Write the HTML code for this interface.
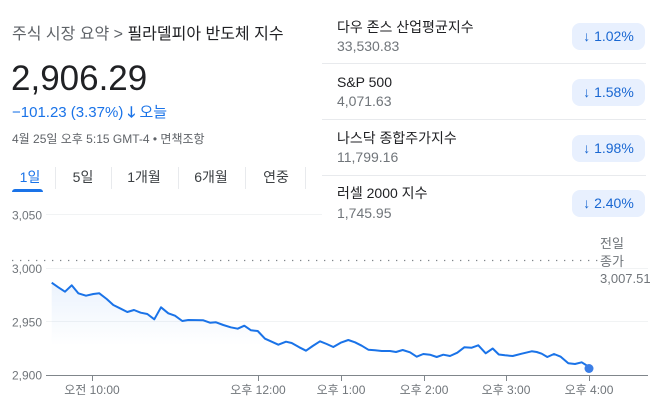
<!DOCTYPE html>
<html><head><meta charset="utf-8">
<style>
html,body{margin:0;padding:0;background:#fff;}
body{width:658px;height:403px;position:relative;overflow:hidden;font-family:"Liberation Sans","Noto Sans CJK KR",sans-serif;}
.a{position:absolute;white-space:nowrap;line-height:1;}
.crumb{left:12px;top:27px;font-size:16px;color:#202124;}
.crumb .g{color:#5f6368;}
.big{left:11px;top:61px;font-size:35px;color:#202124;}
.chg{left:12px;top:105px;font-size:15px;color:#1a73e8;}
.date{left:12px;top:133px;font-size:12px;color:#5f6368;}
.tab{top:170px;font-size:14px;color:#3c4043;transform:translateX(-50%);}
.sep{position:absolute;top:167px;width:1px;height:22px;background:#e8eaed;}
.name{left:337px;font-size:14px;color:#202124;}
.val{left:337px;font-size:14px;color:#70757a;}
.badge{position:absolute;left:572px;width:73px;height:27px;border-radius:8px;background:#e8f0fe;color:#1967d2;font-size:14px;line-height:27px;text-align:center;}
.hl{position:absolute;left:322px;width:324px;height:1px;background:#e8eaed;}
</style></head><body>
<svg width="658" height="403" style="position:absolute;left:0;top:0">
<defs>
<linearGradient id="gf" gradientUnits="userSpaceOnUse" x1="0" y1="280" x2="0" y2="346">
<stop offset="0" stop-color="#1a73e8" stop-opacity="0.09"/>
<stop offset="1" stop-color="#1a73e8" stop-opacity="0"/>
</linearGradient>
</defs>
<g stroke="#f1f3f4" stroke-width="1">
<line x1="46" y1="214.5" x2="648" y2="214.5"/>
<line x1="46" y1="268.5" x2="648" y2="268.5"/>
<line x1="46" y1="321.5" x2="648" y2="321.5"/>
</g>
<line x1="12" y1="260.5" x2="598" y2="260.5" stroke="#80868b" stroke-width="1.3" stroke-dasharray="1.3 6.7"/>
<polygon fill="url(#gf)" points="51.7,282.7 58.3,287.3 65,291.7 71.7,285.3 78.3,293.3 86,295.7 93.3,294 99.3,293.3 106.7,299 113.3,305 120,308.3 127.3,312 134,310 140.7,312.7 147.3,314 154.3,319.3 161,307.3 168.3,313.3 175,315.7 182.3,321 188.3,320 203.3,320.3 210,322.7 216,322.3 223.3,325 230.7,327.3 237.7,328.7 244.3,325.7 251,330.3 257.7,331 265,338.7 271.7,341.7 278.3,344.7 286,341.7 291.7,343 299.3,347.3 306,350.7 312.7,346 320,341.3 326.7,344 333.3,347 340.7,342.7 348.3,340 355,342.3 361.7,345.7 368.3,349.7 375,350.3 381.7,351 390,351 396,352 402.7,350 410,352.3 416.7,356.7 423.3,354 430,354.7 436.7,357 443.3,354.7 450,356 457.3,352.7 464.3,347.3 471.7,347.7 478.3,345.3 485.7,353.3 492.7,348.5 498.8,354.5 505,355.3 512.7,356 521.7,353.7 531.7,351.3 536.7,352 541.7,353.7 547.3,357 554,354 560.7,356.7 568.3,363.3 575,364 581.7,362.3 586,365 589,368.5 589,375 51.7,375"/>
<polyline fill="none" stroke="#1a73e8" stroke-width="2" stroke-linejoin="round" points="51.7,282.7 58.3,287.3 65,291.7 71.7,285.3 78.3,293.3 86,295.7 93.3,294 99.3,293.3 106.7,299 113.3,305 120,308.3 127.3,312 134,310 140.7,312.7 147.3,314 154.3,319.3 161,307.3 168.3,313.3 175,315.7 182.3,321 188.3,320 203.3,320.3 210,322.7 216,322.3 223.3,325 230.7,327.3 237.7,328.7 244.3,325.7 251,330.3 257.7,331 265,338.7 271.7,341.7 278.3,344.7 286,341.7 291.7,343 299.3,347.3 306,350.7 312.7,346 320,341.3 326.7,344 333.3,347 340.7,342.7 348.3,340 355,342.3 361.7,345.7 368.3,349.7 375,350.3 381.7,351 390,351 396,352 402.7,350 410,352.3 416.7,356.7 423.3,354 430,354.7 436.7,357 443.3,354.7 450,356 457.3,352.7 464.3,347.3 471.7,347.7 478.3,345.3 485.7,353.3 492.7,348.5 498.8,354.5 505,355.3 512.7,356 521.7,353.7 531.7,351.3 536.7,352 541.7,353.7 547.3,357 554,354 560.7,356.7 568.3,363.3 575,364 581.7,362.3 586,365 589,368.5"/>
<circle cx="589" cy="368.5" r="4.5" fill="#3b7ee6"/>
<line x1="46" y1="375.5" x2="648" y2="375.5" stroke="#80868b" stroke-width="1"/>
<g stroke="#80868b" stroke-width="1">
<line x1="92.5" y1="375" x2="92.5" y2="381"/>
<line x1="258.5" y1="375" x2="258.5" y2="381"/>
<line x1="341.5" y1="375" x2="341.5" y2="381"/>
<line x1="424.5" y1="375" x2="424.5" y2="381"/>
<line x1="506.5" y1="375" x2="506.5" y2="381"/>
<line x1="589.5" y1="375" x2="589.5" y2="381"/>
</g>
<g font-family="Liberation Sans, Noto Sans CJK KR, sans-serif" font-size="12" fill="#70757a">
<text x="12" y="219.5">3,050</text>
<text x="12" y="273">3,000</text>
<text x="12" y="326.5">2,950</text>
<text x="12" y="379.5">2,900</text>
<g text-anchor="middle">
<text x="92" y="394">오전 10:00</text>
<text x="258" y="394">오후 12:00</text>
<text x="341" y="394">오후 1:00</text>
<text x="424" y="394">오후 2:00</text>
<text x="506" y="394">오후 3:00</text>
<text x="589" y="394">오후 4:00</text>
</g>
<g font-size="13">
<text x="600" y="248">전일</text>
<text x="600" y="266">종가</text>
<text x="600" y="283">3,007.51</text>
</g>
</g>
</svg>

<div class="a crumb"><span class="g">주식 시장 요약 &gt;</span> 필라델피아 반도체 지수</div>
<div class="a big">2,906.29</div>
<div class="a chg">−101.23 (3.37%) <span style="font-weight:bold">🡓</span> 오늘</div>
<div class="a date">4월 25일 오후 5:15 GMT-4 • 면책조항</div>

<div class="a tab" style="left:30px;color:#1a73e8">1일</div>
<div class="a tab" style="left:83px">5일</div>
<div class="a tab" style="left:144px">1개월</div>
<div class="a tab" style="left:211px">6개월</div>
<div class="a tab" style="left:276px">연중</div>
<div class="sep" style="left:55px"></div>
<div class="sep" style="left:111px"></div>
<div class="sep" style="left:178px"></div>
<div class="sep" style="left:245px"></div>
<div class="sep" style="left:305px"></div>
<div style="position:absolute;left:12px;top:189px;width:31px;height:3px;background:#1a73e8;border-radius:3px 3px 0 0"></div>

<div style="position:absolute;left:322px;top:0;width:336px;height:226px;background:#fff"></div>
<div class="a name" style="top:20px">다우 존스 산업평균지수</div>
<div class="a val" style="top:39px">33,530.83</div>
<div class="badge" style="top:23px">↓ 1.02%</div>
<div class="hl" style="top:63px"></div>
<div class="a name" style="top:75px">S&amp;P 500</div>
<div class="a val" style="top:94px">4,071.63</div>
<div class="badge" style="top:79px">↓ 1.58%</div>
<div class="hl" style="top:119px"></div>
<div class="a name" style="top:131px">나스닥 종합주가지수</div>
<div class="a val" style="top:150px">11,799.16</div>
<div class="badge" style="top:135px">↓ 1.98%</div>
<div class="hl" style="top:175px"></div>
<div class="a name" style="top:186px">러셀 2000 지수</div>
<div class="a val" style="top:206px">1,745.95</div>
<div class="badge" style="top:190px">↓ 2.40%</div>
</body></html>
